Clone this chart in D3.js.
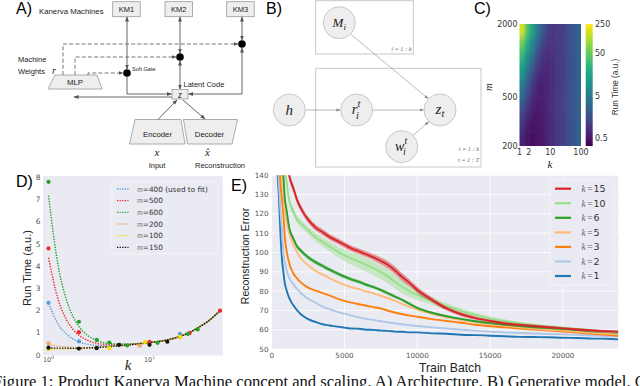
<!DOCTYPE html>
<html><head><meta charset="utf-8">
<script src="https://cdn.jsdelivr.net/npm/d3@7"></script>
<style>body{margin:0;background:#fff}svg{display:block}</style>
</head><body>
<svg id="c" width="640" height="386"></svg>
<script>
// ---------------- DATA ----------------
// Panel C heatmap: k bins (log edges), m bins (log edges), run time values (rows: m low -> high)
const heatKEdges = [1, 1.468, 2.154, 3.162, 4.642, 6.813, 10, 14.68, 21.54, 31.62, 46.42, 68.13, 100];
const heatMEdges = [200, 251.8, 317, 399, 502, 632, 796, 1002, 1262, 1589, 2000];
const heatValues = [
  [0.57, 0.44, 0.42, 0.44, 0.49, 0.58, 0.71, 0.91, 1.15, 1.5, 1.9, 2.5],
  [0.80, 0.52, 0.44, 0.45, 0.50, 0.58, 0.71, 0.91, 1.15, 1.5, 1.9, 2.5],
  [1.26, 0.67, 0.50, 0.47, 0.50, 0.58, 0.71, 0.91, 1.15, 1.5, 1.9, 2.5],
  [2.17, 0.98, 0.60, 0.50, 0.52, 0.59, 0.71, 0.91, 1.15, 1.5, 1.9, 2.5],
  [3.99, 1.60, 0.81, 0.58, 0.54, 0.60, 0.72, 0.91, 1.15, 1.5, 1.9, 2.5],
  [7.6, 2.83, 1.23, 0.72, 0.59, 0.61, 0.72, 0.91, 1.15, 1.5, 1.9, 2.5],
  [14.8, 5.27, 2.07, 1.01, 0.69, 0.65, 0.73, 0.92, 1.15, 1.5, 1.9, 2.5],
  [29.3, 10.2, 3.75, 1.58, 0.88, 0.71, 0.76, 0.93, 1.16, 1.5, 1.9, 2.5],
  [58.1, 20.0, 7.1, 2.73, 1.27, 0.85, 0.80, 0.94, 1.16, 1.5, 1.9, 2.5],
  [170, 39.3, 13.7, 5.0, 2.05, 1.11, 0.89, 0.97, 1.17, 1.51, 1.9, 2.5]
];
const heatXTicks = [1, 2, 10, 100];
const heatYTicks = [200, 500, 2000];
const cbarTicks = [0.5, 5, 50, 250];

// Panel D: fitted curves and measured points
const dK = [1, 1.25, 1.5, 1.75, 2, 2.5, 3, 4, 5, 7, 10, 15, 20, 25, 30, 40, 50];
const fit400 = [2.33, 1.38, 0.95, 0.72, 0.59, 0.48, 0.43, 0.42, 0.44, 0.49, 0.56, 0.68, 0.84, 1.02, 1.22, 1.6, 2.0];
const fit500 = [4.38, 2.48, 1.61, 1.15, 0.89, 0.64, 0.53, 0.47, 0.47, 0.50, 0.57, 0.68, 0.84, 1.02, 1.22, 1.6, 2.0];
const fit600 = [7.18, 3.98, 2.51, 1.73, 1.29, 0.85, 0.66, 0.52, 0.50, 0.51, 0.57, 0.68, 0.84, 1.02, 1.22, 1.6, 2.0];
const fit200 = [0.50, 0.40, 0.36, 0.34, 0.33, 0.34, 0.35, 0.385, 0.42, 0.48, 0.56, 0.68, 0.84, 1.02, 1.22, 1.6, 2.0];
const fit100 = [0.27, 0.27, 0.28, 0.28, 0.29, 0.31, 0.33, 0.38, 0.42, 0.48, 0.56, 0.68, 0.84, 1.02, 1.22, 1.6, 2.0];
const fit150 = [0.33, 0.31, 0.31, 0.30, 0.31, 0.32, 0.34, 0.38, 0.42, 0.48, 0.56, 0.68, 0.84, 1.02, 1.22, 1.6, 2.0];
const ptsK400 = [1, 2, 20],                    ptsV400 = [2.35, 0.62, 0.95];
const ptsK500 = [1, 2, 10, 25, 50],            ptsV500 = [4.8, 1.03, 0.6, 0.99, 2.0];
const ptsK600 = [1, 2, 3, 4, 6, 12, 24, 30],   ptsV600 = [7.8, 1.5, 0.68, 0.56, 0.43, 0.55, 0.95, 1.15];
const ptsK200 = [1, 8, 20],                    ptsV200 = [0.53, 0.42, 0.79];
const ptsK100 = [1, 4, 9, 20],                 ptsV100 = [0.27, 0.31, 0.58, 0.82];
const ptsK150 = [1, 2, 3, 5, 10, 15],          ptsV150 = [0.33, 0.29, 0.31, 0.46, 0.46, 0.6];
const dLegend = ["=400 (used to fit)", "=500", "=600", "=200", "=100", "=150"];
const dXTicks = [1, 10];
const dYTicks = [0, 1, 2, 3, 4, 5, 6, 7, 8];

// Panel E: reconstruction error curves
const eBatch = [0, 400, 500, 600, 700, 800, 900, 1000, 1200, 1500, 1750, 2000, 2500, 3000, 3500, 4000, 4500, 5000,
  5500, 6000, 6500, 7000, 7500, 8000, 8500, 9000, 9500, 10000, 11000, 12000, 13000, 14000, 15000, 16000, 17000,
  18000, 19000, 20000, 21000, 22000, 23000, 23800];
const errK1  = [200, 141, 128, 110, 97, 90, 84, 81, 76.5, 72.5, 70, 68, 65.5, 64, 62.8, 62.2, 61.6, 61.1, 60.6, 60.5, 60.0, 59.9, 59.5, 59.4, 59.0, 58.9, 58.6, 58.6, 58.1, 57.9, 57.4, 57.2, 56.9, 56.6, 56.3, 56.2, 56.1, 55.8, 55.7, 55.4, 55.3, 55.0];
const errK2  = [200, 150, 135, 122, 112, 100, 95, 91.5, 87, 83.5, 81, 79, 76, 74, 72, 70.5, 69.2, 68.3, 67.3, 66.4, 65.6, 65, 64.4, 63.8, 63.3, 62.8, 62.3, 61.9, 61.2, 60.6, 60, 59.5, 59.0, 58.6, 58.3, 58.0, 57.8, 57.6, 57.3, 57.0, 56.7, 56.4];
const errK3  = [200, 170, 150, 136, 128, 120, 108, 102, 94.5, 89, 86.5, 84.5, 81.8, 80.3, 79, 77.6, 76.1, 74.9, 74, 73.2, 72.4, 71.7, 71, 69.8, 68.8, 68, 67.3, 66.7, 65.5, 64.5, 63.6, 62.6, 61.8, 61.2, 60.6, 60.1, 59.6, 59.1, 58.5, 57.9, 57.4, 56.9];
const errK5  = [200, 200, 170, 155, 141, 131, 121, 117, 110, 104, 100, 97, 93.5, 90.5, 88.5, 86.6, 84.8, 83.2, 82, 81, 79.8, 78.8, 77.6, 76.3, 74.8, 73.3, 71.8, 70.4, 68.2, 66.4, 65, 63.9, 62.9, 62.1, 61.3, 60.6, 60, 59.6, 59.0, 58.4, 58, 57.6];
const errK6  = [200, 200, 180, 165, 150, 140, 128, 123, 113, 107, 103, 101, 97.5, 95, 93, 91, 89.2, 87.5, 86, 84.8, 83.3, 82.1, 80.5, 78.8, 77, 75.3, 73.2, 71.3, 68.8, 67, 65.6, 64.4, 63.4, 62.6, 61.9, 61.3, 60.8, 60.4, 59.8, 59.2, 58.8, 58.4];
const errK10 = [200, 200, 200, 175, 160, 150, 145, 138, 127, 121, 117, 115, 111.5, 108, 105.5, 103, 100.6, 98.5, 96.8, 95.3, 93.5, 91.8, 89.8, 87.5, 84.6, 82, 79.8, 78, 74.8, 72.2, 69.8, 67.7, 65.9, 64.5, 63.3, 62.4, 61.6, 61, 60.4, 59.6, 59.0, 58.7];
const errK15 = [200, 200, 200, 200, 185, 170, 160, 150, 140, 133, 127, 123, 117, 113, 110.5, 108, 106, 104, 102, 100.6, 99, 97.5, 95.6, 93.5, 90.5, 87, 84, 80.6, 75.5, 71, 68, 66, 64.5, 63.3, 62.5, 61.9, 61.3, 60.7, 60.1, 59.6, 59.2, 59.0];
const sdK15 = [0, 3, 3, 3, 3, 3, 3, 3, 2, 2, 1.8, 1.8, 1.6, 1.6, 1.5, 1.5, 1.5, 1.5, 1.5, 1.5, 1.5, 1.6, 1.8, 2, 2, 2, 1.8, 1.6, 1.3, 1.1, 1, 0.9, 0.8, 0.8, 0.7, 0.7, 0.7, 0.6, 0.6, 0.6, 0.6, 0.6];
const sdK10 = [0, 3, 3, 3, 3, 3, 3, 3, 2.5, 2.2, 2, 2, 2, 2.2, 2.4, 2.6, 2.8, 3, 3.2, 3.4, 3.5, 3.6, 3.6, 3.6, 3.5, 3.4, 3, 2.6, 2, 1.6, 1.3, 1.1, 1, 0.9, 0.8, 0.8, 0.7, 0.7, 0.6, 0.6, 0.6, 0.6];
const sdK6  = [0, 2, 2, 2, 2, 2, 2, 2, 1.5, 1.3, 1.2, 1.2, 1.1, 1.1, 1, 1, 1, 1, 0.9, 0.9, 0.8, 0.8, 0.8, 0.8, 0.7, 0.7, 0.7, 0.6, 0.5, 0.5, 0.5, 0.5, 0.4, 0.4, 0.4, 0.4, 0.4, 0.4, 0.4, 0.4, 0.4, 0.4];
const eLegend = ["15", "10", "6", "5", "3", "2", "1"];
const eXTicks = [0, 5000, 10000, 15000, 20000];
const eYTicks = [50, 60, 70, 80, 90, 100, 110, 120, 130, 140];

const captionPrefix = "Figure 1: Product Kanerva Machine concept and scaling. A) Architecture. B) Generative model. ";
const captionText = captionPrefix + "C)";

// ---------------- DRAW ----------------
const SANS = "'Liberation Sans', Arial, sans-serif";
const DV = "'DejaVu Sans', sans-serif";
const SERIF = "'Liberation Serif', 'DejaVu Serif', serif";
const svg = d3.select("#c");
svg.append("rect").attr("width", 640).attr("height", 386).attr("fill", "#fff");
const defs = svg.append("defs");
function mk(id, col, size) {
  defs.append("marker").attr("id", id).attr("viewBox", "0 0 10 10").attr("refX", 9).attr("refY", 5)
    .attr("markerWidth", size).attr("markerHeight", size).attr("markerUnits", "userSpaceOnUse")
    .attr("orient", "auto-start-reverse")
    .append("path").attr("d", "M0,1L10,5L0,9z").attr("fill", col);
}
mk("ah", "#555", 5); mk("ahs", "#888", 4);

function txt(g, x, y, s, size, opt = {}) {
  return g.append("text").attr("x", x).attr("y", y).text(s)
    .attr("font-family", opt.family || SANS).attr("font-size", size)
    .attr("font-style", opt.italic ? "italic" : null)
    .attr("text-anchor", opt.anchor || "start").attr("fill", opt.fill || "#222");
}

// ===== Panel A =====
const A = svg.append("g");
txt(A, 16, 14, "A)", 16, {fill: "#000"});
txt(A, 39, 13.5, "Kanerva Machines", 7.8);
[["KM1", 112.7], ["KM2", 165], ["KM3", 226.7]].forEach(([s, x]) => {
  A.append("rect").attr("x", x).attr("y", 1.7).attr("width", 27.5).attr("height", 15).attr("fill", "#eee").attr("stroke", "#999").attr("stroke-width", 0.8);
  txt(A, x + 13.75, 12.3, s, 7.5, {anchor: "middle"});
});
function pl(pts, o = {}) {
  const p = A.append("path").attr("d", d3.line()(pts)).attr("fill", "none")
    .attr("stroke", o.col || "#555").attr("stroke-width", o.w || 0.9);
  if (o.dash) p.attr("stroke-dasharray", o.dash);
  if (o.end) p.attr("marker-end", "url(#ah)");
  if (o.start) p.attr("marker-start", "url(#ah)");
  return p;
}
pl([[127, 17], [127, 69]], {start: 1, end: 1});
pl([[180, 17], [180, 53]], {start: 1, end: 1});
pl([[242, 17], [242, 40]], {start: 1, end: 1});
pl([[180, 61], [180, 89]], {start: 1, end: 1});
pl([[242, 48], [242, 94], [188.5, 94]], {start: 1, end: 1});
pl([[127, 77], [127, 94], [171.5, 94]], {end: 1});
pl([[172, 97], [74, 97]], {end: 1});
pl([[63, 75], [63, 44], [238, 44]], {dash: "4,2.2", col: "#666", end: 1});
pl([[75, 75], [75, 57], [176, 57]], {dash: "4,2.2", col: "#666", end: 1});
pl([[88, 75], [88, 73], [123, 73]], {dash: "4,2.2", col: "#666", end: 1});
[[127, 73], [180, 57], [242, 44]].forEach(([x, y]) => A.append("circle").attr("cx", x).attr("cy", y).attr("r", 3.8).attr("fill", "#000"));
txt(A, 132, 70.5, "Soft Gate", 5.6);
txt(A, 18, 61.5, "Machine", 7.5);
txt(A, 18, 73.5, "Weights", 7.5);
txt(A, 52, 73.5, "r", 10, {family: SERIF, italic: 1});
A.append("path").attr("d", "M55,75L97,75L102,89L48,89Z").attr("fill", "#eee").attr("stroke", "#999").attr("stroke-width", 0.8);
txt(A, 75, 85, "MLP", 7.8, {anchor: "middle"});
A.append("rect").attr("x", 172).attr("y", 89.5).attr("width", 16).attr("height", 9.5).attr("fill", "#eee").attr("stroke", "#999").attr("stroke-width", 0.8);
txt(A, 180, 97.5, "z", 10, {family: SERIF, italic: 1, anchor: "middle"});
txt(A, 183.5, 87.3, "Latent Code", 7.5);
A.append("path").attr("d", "M135,119.5L181,119.5L185,144L129.5,144Z").attr("fill", "#eee").attr("stroke", "#999").attr("stroke-width", 0.8);
A.append("path").attr("d", "M183.5,119.5L237.5,119.5L232,144L187.5,144Z").attr("fill", "#eee").attr("stroke", "#999").attr("stroke-width", 0.8);
txt(A, 157.5, 137, "Encoder", 7.8, {anchor: "middle"});
txt(A, 209.5, 137, "Decoder", 7.8, {anchor: "middle"});
pl([[158, 119.5], [177, 100]], {end: 1});
pl([[183, 100], [205, 119]], {end: 1});
txt(A, 157, 156, "x", 11, {family: SERIF, italic: 1, anchor: "middle"});
txt(A, 207.5, 156, "x\u0302", 11, {family: SERIF, italic: 1, anchor: "middle"});
txt(A, 157, 167.5, "Input", 7.5, {anchor: "middle"});
txt(A, 220, 167.5, "Reconstruction", 7.5, {anchor: "middle"});

// ===== Panel B =====
const B = svg.append("g");
txt(B, 266, 14, "B)", 16, {fill: "#000"});
B.append("rect").attr("x", 315.7).attr("y", 0.7).attr("width", 97.6).attr("height", 53.3).attr("fill", "none").attr("stroke", "#c8c8c8").attr("stroke-width", 1);
B.append("rect").attr("x", 315.7).attr("y", 68.3).attr("width", 165.3).attr("height", 98.7).attr("fill", "none").attr("stroke", "#c8c8c8").attr("stroke-width", 1);
function bl(x1, y1, x2, y2) {
  B.append("line").attr("x1", x1).attr("y1", y1).attr("x2", x2).attr("y2", y2).attr("stroke", "#888").attr("stroke-width", 0.6).attr("marker-end", "url(#ahs)");
}
bl(305.5, 110, 340, 110); bl(373, 110, 423.5, 110); bl(351, 34.5, 428, 98.5); bl(413, 135.5, 428.5, 122);
[[339.3, 22.7], [289.3, 110], [356.7, 110], [440, 110], [401.7, 146.7]].forEach(([x, y]) =>
  B.append("circle").attr("cx", x).attr("cy", y).attr("r", 16).attr("fill", "#eee").attr("stroke", "#bbb").attr("stroke-width", 0.8));
function mathNode(x, y, base, sup, sub, size) {
  const t = B.append("text").attr("x", x).attr("y", y).attr("font-family", SERIF).attr("font-style", "italic").attr("font-size", size).attr("fill", "#222");
  t.append("tspan").text(base);
  if (sup) t.append("tspan").text(sup).attr("font-size", size * 0.7).attr("dy", -size * 0.45);
  if (sub) t.append("tspan").text(sub).attr("font-size", size * 0.7).attr("dx", sup ? -size * 0.3 : 0).attr("dy", sup ? size * 0.8 : size * 0.25);
  const w = t.node().getComputedTextLength();
  t.attr("x", x - w / 2);
}
mathNode(339.3, 27, "M", null, "i", 13);
mathNode(289.3, 115, "h", null, null, 15);
mathNode(357.5, 114, "r", "t", "i", 15);
mathNode(440, 113.5, "z", null, "t", 15);
mathNode(402.5, 150.5, "w", "t", "i", 14);
txt(B, 411.5, 51, "i = 1 : k", 6.3, {family: SERIF, italic: 1, anchor: "end", fill: "#666"});
txt(B, 479, 151, "i = 1 : k", 6.3, {family: SERIF, italic: 1, anchor: "end", fill: "#666"});
txt(B, 479, 162, "t = 1 : T", 6.3, {family: SERIF, italic: 1, anchor: "end", fill: "#666"});

// ===== Panel C =====
const C = svg.append("g");
txt(C, 474, 14, "C)", 16, {fill: "#000"});
const cx = d3.scaleLog().domain([1, 100]).range([519.5, 581]);
const cy = d3.scaleLog().domain([200, 2000]).range([146, 24]);
const ccol = d3.scaleSequentialLog(d3.interpolateViridis).domain([0.32, 250]);
defs.append("clipPath").attr("id", "hclip").append("rect").attr("x", 519.5).attr("y", 24).attr("width", 61.5).attr("height", 122);
const blur = defs.append("filter").attr("id", "hblur").attr("filterUnits", "userSpaceOnUse")
  .attr("x", 490).attr("y", 0).attr("width", 120).attr("height", 180);
blur.append("feGaussianBlur").attr("stdDeviation", "1.8 4.5");
const HG = C.append("g").attr("clip-path", "url(#hclip)").append("g").attr("filter", "url(#hblur)");
const nR = heatValues.length, nC = heatValues[0].length;
heatValues.forEach((row, j) => row.forEach((v, i) => {
  let x0 = cx(heatKEdges[i]), x1 = cx(heatKEdges[i + 1]);
  let y0 = cy(heatMEdges[j + 1]), y1 = cy(heatMEdges[j]);
  if (i === 0) x0 -= 12; if (i === nC - 1) x1 += 12;
  if (j === 0) y1 += 14; if (j === nR - 1) y0 -= 14;
  HG.append("rect").attr("x", x0).attr("y", y0).attr("width", x1 - x0 + 0.4).attr("height", y1 - y0 + 0.4).attr("fill", ccol(v));
}));
heatYTicks.forEach(t => txt(C, 517.5, cy(t) + 3, String(t), 8, {family: DV, anchor: "end", fill: "#333"}));
heatXTicks.forEach(t => txt(C, cx(t), 155, String(t), 8, {family: DV, anchor: "middle", fill: "#333"}));
txt(C, 550, 168, "k", 11, {family: SERIF, italic: 1, anchor: "middle"});
C.append("text").attr("transform", "translate(492,87) rotate(-90)").attr("text-anchor", "middle")
  .attr("font-family", SERIF).attr("font-style", "italic").attr("font-size", 11).attr("fill", "#222").text("m");
const cb = d3.scaleLog().domain([0.32, 250]).range([146, 24]);
const grad = defs.append("linearGradient").attr("id", "vir").attr("x1", 0).attr("y1", 1).attr("x2", 0).attr("y2", 0);
d3.range(0, 1.0001, 0.05).forEach(f => grad.append("stop").attr("offset", f).attr("stop-color", d3.interpolateViridis(f)));
C.append("rect").attr("x", 585.7).attr("y", 24).attr("width", 7).attr("height", 122).attr("fill", "url(#vir)");
cbarTicks.forEach(t => txt(C, 595, cb(t) + 3, String(t), 8, {family: DV, fill: "#333"}));
C.append("text").attr("transform", "translate(618,87) rotate(-90)").attr("text-anchor", "middle")
  .attr("font-family", SANS).attr("font-size", 8.2).attr("fill", "#333").text("Run Time (a.u.)");

// ===== Panel D =====
const D = svg.append("g");
txt(D, 16, 187, "D)", 16, {fill: "#000"});
const dx = d3.scaleLog().domain([0.882, 53.06]).range([43, 222.7]);
const dy = d3.scaleLinear().domain([-0.02, 8.06]).range([355.5, 176]);
D.append("rect").attr("x", 43).attr("y", 176).attr("width", 179.7).attr("height", 179.5).attr("fill", "#EAEAF2");
dYTicks.forEach(t => {
  txt(D, 40.5, dy(t) + 2.6, String(t), 7.5, {family: DV, anchor: "end", fill: "#555"});
});
dXTicks.forEach((t, i) => {
  const tt = D.append("text").attr("x", dx(t)).attr("y", 361.5).attr("text-anchor", "middle").attr("font-family", DV).attr("font-size", 6.5).attr("fill", "#555");
  tt.append("tspan").text("10");
  tt.append("tspan").text(String(i)).attr("font-size", 4.5).attr("dy", -3);
});
const dSeries = [
  {fit: fit400, k: ptsK400, v: ptsV400, col: "#5b9bd5"},
  {fit: fit500, k: ptsK500, v: ptsV500, col: "#ee2a2a"},
  {fit: fit600, k: ptsK600, v: ptsV600, col: "#24a024"},
  {fit: fit200, k: ptsK200, v: ptsV200, col: "#f7a35c"},
  {fit: fit100, k: ptsK100, v: ptsV100, col: "#f0e000"},
  {fit: fit150, k: ptsK150, v: ptsV150, col: "#111"}
];
const dLine = d3.line().x((d, i) => dx(dK[i])).y(d => dy(d)).curve(d3.curveMonotoneX);
dSeries.forEach(s => D.append("path").attr("d", dLine(s.fit)).attr("fill", "none").attr("stroke", s.col)
  .attr("stroke-width", 1.4).attr("stroke-dasharray", "1.4,1.3"));
dSeries.forEach(s => s.k.forEach((k, i) => D.append("circle").attr("cx", dx(k)).attr("cy", dy(s.v[i])).attr("r", 2.1).attr("fill", s.col)));
D.append("rect").attr("x", 112).attr("y", 182).attr("width", 106).attr("height", 72).attr("rx", 2).attr("fill", "#EAEAF2").attr("stroke", "#f6f6f9").attr("stroke-width", 0.8);
dLegend.forEach((s, i) => {
  const y = 189 + i * 11.66;
  D.append("line").attr("x1", 117).attr("x2", 128.5).attr("y1", y).attr("y2", y).attr("stroke", dSeries[i].col).attr("stroke-width", 1.3).attr("stroke-dasharray", "1.3,1.3");
  const t = D.append("text").attr("x", 137).attr("y", y + 2.6).attr("font-size", 7.3).attr("fill", "#333");
  t.append("tspan").text("m").attr("font-family", SERIF).attr("font-style", "italic").attr("fill", "#777").attr("font-size", 8);
  t.append("tspan").text(s).attr("font-family", DV);
});
D.append("text").attr("transform", "translate(31,268) rotate(-90)").attr("text-anchor", "middle")
  .attr("font-family", SANS).attr("font-size", 11).attr("fill", "#222").text("Run Time (a.u.)");
txt(D, 128, 370, "k", 15, {family: SERIF, italic: 1, anchor: "middle"});

// ===== Panel E =====
const E = svg.append("g");
txt(E, 231, 191, "E)", 16, {fill: "#000"});
const ex = d3.scaleLinear().domain([0, 23800]).range([271.7, 618.3]);
const ey = d3.scaleLinear().domain([50, 140]).range([349, 175.3]);
E.append("rect").attr("x", 271.7).attr("y", 175.3).attr("width", 346.6).attr("height", 173.7).attr("fill", "#EAEAF2");
eXTicks.forEach(t => E.append("line").attr("x1", ex(t)).attr("x2", ex(t)).attr("y1", 175.3).attr("y2", 349).attr("stroke", "#fff").attr("stroke-width", 0.8));
eYTicks.forEach(t => E.append("line").attr("y1", ey(t)).attr("y2", ey(t)).attr("x1", 271.7).attr("x2", 618.3).attr("stroke", "#fff").attr("stroke-width", 0.8));
eYTicks.forEach(t => txt(E, 268.5, ey(t) + 2.5, String(t), 7.2, {family: DV, anchor: "end", fill: "#555"}));
eXTicks.forEach(t => txt(E, ex(t), 358, String(t), 7.2, {family: DV, anchor: "middle", fill: "#555"}));
defs.append("clipPath").attr("id", "eclip").append("rect").attr("x", 271.7).attr("y", 175.3).attr("width", 346.6).attr("height", 173.7);
const EP = E.append("g").attr("clip-path", "url(#eclip)");
const eSeries = [
  {v: errK15, sd: sdK15, col: "#d62728"},
  {v: errK10, sd: sdK10, col: "#98df8a"},
  {v: errK6, sd: sdK6, col: "#2ca02c"},
  {v: errK5, sd: null, col: "#ffbb78"},
  {v: errK3, sd: null, col: "#ff7f0e"},
  {v: errK2, sd: null, col: "#aec7e8"},
  {v: errK1, sd: null, col: "#1f77b4"}
];
const eLine = d3.line().x((d, i) => ex(eBatch[i])).y(d => ey(d)).curve(d3.curveMonotoneX);
const eArea = d3.area().x(d => ex(d.b)).y0(d => ey(d.v - d.s)).y1(d => ey(d.v + d.s)).curve(d3.curveMonotoneX);
eSeries.slice().reverse().forEach(s => {
  if (s.sd) EP.append("path").attr("d", eArea(s.v.map((v, i) => ({b: eBatch[i], v, s: s.sd[i]})))).attr("fill", s.col).attr("opacity", 0.45);
  EP.append("path").attr("d", eLine(s.v)).attr("fill", "none").attr("stroke", s.col).attr("stroke-width", 1.9);
});
E.append("rect").attr("x", 550).attr("y", 180).attr("width", 64).attr("height", 105).attr("rx", 2).attr("fill", "#EAEAF2").attr("stroke", "#f6f6f9").attr("stroke-width", 0.8);
eLegend.forEach((s, i) => {
  const y = 188.7 + i * 14.55;
  E.append("line").attr("x1", 555).attr("x2", 571).attr("y1", y).attr("y2", y).attr("stroke", eSeries[i].col).attr("stroke-width", 2.2);
  const t = E.append("text").attr("x", 581.5).attr("y", y + 3.3).attr("font-size", 9.5).attr("fill", "#333");
  t.append("tspan").text("k").attr("font-family", SERIF).attr("font-style", "italic").attr("fill", "#666");
  t.append("tspan").text("=").attr("font-family", SERIF).attr("dx", 1.5).attr("fill", "#666");
  t.append("tspan").text(s).attr("font-family", DV).attr("dx", 1);
});
E.append("text").attr("transform", "translate(249,256) rotate(-90)").attr("text-anchor", "middle")
  .attr("font-family", SANS).attr("font-size", 10.5).attr("fill", "#222").text("Reconstruction Error");
txt(E, 450, 372, "Train Batch", 12.2, {anchor: "middle"});

// ===== Caption (scaled so that "C)" starts near the right edge) =====
const probe = svg.append("text").attr("x", 0).attr("y", -50).attr("font-family", SERIF).attr("font-size", 14).text(captionPrefix);
const pw = probe.node().getComputedTextLength();
probe.remove();
const capSize = 14 * (638 / pw);
svg.append("text").attr("x", -7).attr("y", 387).attr("font-family", SERIF).attr("font-size", capSize).attr("fill", "#111").text(captionText);
</script>
</body></html>
